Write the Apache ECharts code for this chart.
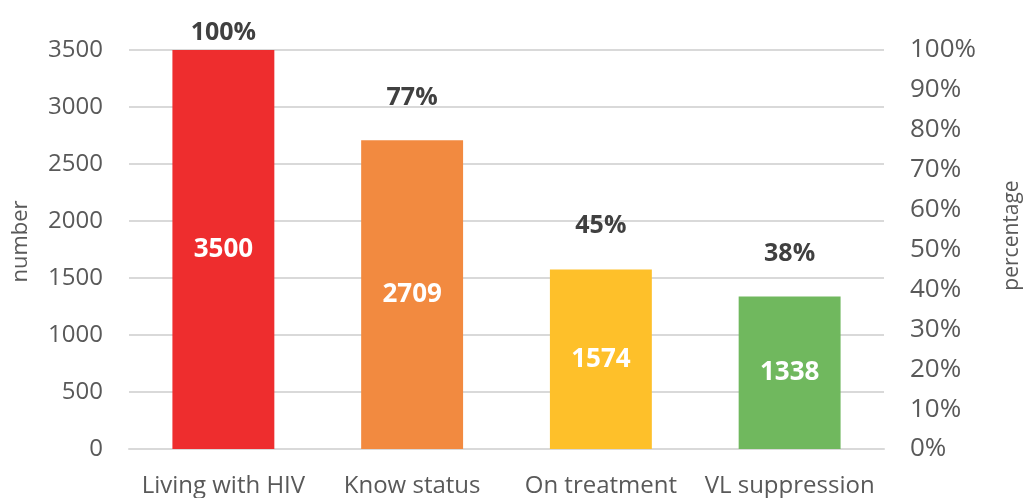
<!DOCTYPE html>
<html>
<head>
<meta charset="utf-8">
<script src="https://cdn.jsdelivr.net/npm/echarts@6/dist/echarts.min.js"></script>
<style>
  html, body { margin: 0; padding: 0; background: #fff; }
  #chart { width: 1031px; height: 498px; }
</style>
</head>
<body>
<div id="chart"></div>
<script>
// cascade data
var categories = ["Living with HIV", "Know status", "On treatment", "VL suppression"];
var counts = [3500, 2709, 1574, 1338];
var percents = [100, 77, 45, 38];
var barColors = ["#EE2D2E", "#F28A40", "#FEC02A", "#70B85E"];

var font = "Open Sans";
var grey = "#595959";

var chart = echarts.init(document.getElementById("chart"));

chart.setOption({
    animation: false,
    grid: { left: 129, right: 140, top: 50, bottom: 48 },
    xAxis: {
        type: "category",
        data: categories,
        axisTick: { show: false },
        axisLine: { lineStyle: { color: "#d9d9d9", width: 2 } },
        axisLabel: { color: grey, fontFamily: font, fontSize: 24, margin: 25, interval: 0 }
    },
    yAxis: [
        {
            type: "value",
            min: 0, max: 3500, interval: 500,
            name: "number",
            nameLocation: "middle",
            nameGap: 97,
            nameTextStyle: { color: grey, fontFamily: font, fontSize: 22, padding: [0, 0, 0, 16] },
            axisLabel: {
                color: grey, fontFamily: font, fontSize: 24, margin: 26, padding: [6, 0, 0, 0],
                formatter: function (v) { return String(v); }
            },
            splitLine: { lineStyle: { color: "#d9d9d9", width: 2 } }
        },
        {
            type: "value",
            min: 0, max: 100, interval: 10,
            name: "percentage",
            nameLocation: "middle",
            nameGap: 118,
            nameTextStyle: { color: grey, fontFamily: font, fontSize: 21, padding: [0, 0, 0, 28] },
            axisLabel: { color: grey, fontFamily: font, fontSize: 26, margin: 26, padding: [6, 0, 0, 0], formatter: "{value}%" },
            splitLine: { show: false }
        }
    ],
    series: [
        {
            type: "bar",
            yAxisIndex: 0,
            barWidth: "54%",
            data: counts.map(function (v, i) {
                return { value: v, itemStyle: { color: barColors[i] } };
            }),
            label: {
                show: true,
                position: "inside",
                color: "#fff",
                fontFamily: font,
                fontWeight: "bold",
                fontSize: 26
            }
        },
        {
            type: "bar",
            yAxisIndex: 1,
            barWidth: "54%",
            barGap: "-100%",
            silent: true,
            itemStyle: { color: "rgba(0,0,0,0)" },
            data: percents.map(function (v, i) {
                return { value: v, label: { distance: i === 0 ? 5 : 31 } };
            }),
            label: {
                show: true,
                position: "top",
                color: "#404040",
                fontFamily: font,
                fontWeight: "bold",
                fontSize: 25,
                formatter: "{c}%"
            }
        }
    ]
});
</script>
</body>
</html>
